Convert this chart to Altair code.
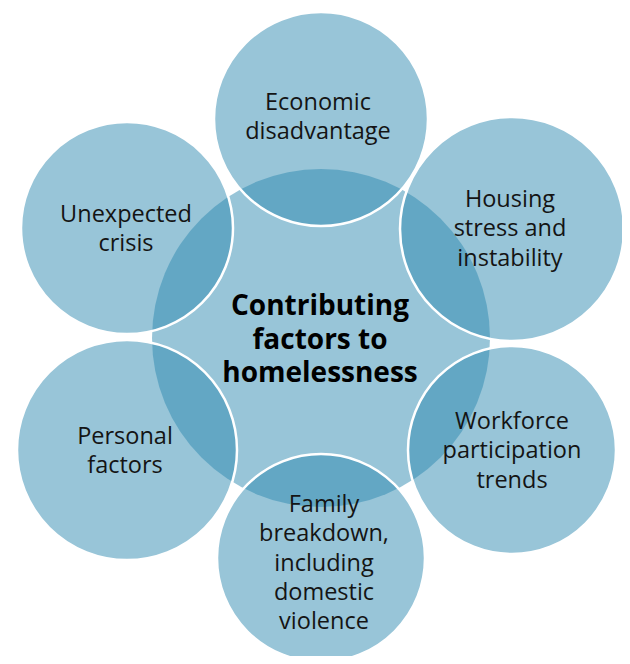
import altair as alt
import pandas as pd

# Outer factor circles (image pixel coordinates)
labels = [
    "Economic\ndisadvantage",
    "Housing\nstress and\ninstability",
    "Workforce\nparticipation\ntrends",
    "Family\nbreakdown,\nincluding\ndomestic\nviolence",
    "Personal\nfactors",
    "Unexpected\ncrisis",
]
cx = [321, 512, 512, 321, 127, 127]
cy = [119, 229, 450, 558, 450, 228]
radius = [107, 112, 104, 104, 110, 106]
# position of the first text line of each label
label_x = [318, 510, 512, 324, 125, 126]
label_y = [103, 200, 422, 505, 437, 215]

# Central circle
center_label = ["Contributing\nfactors to\nhomelessness"]
center_x = [321]
center_y = [338]
center_r = [169]
center_label_x = [320]
center_label_y = [307]

FILL = "#2d89af"
ALPHA = 0.49

outer = pd.DataFrame({
    "label": labels, "cx": cx, "cy": cy, "r": radius,
    "lx": label_x, "ly": label_y,
})
outer["size"] = (2 * outer["r"]) ** 2
center = pd.DataFrame({
    "label": center_label, "cx": center_x, "cy": center_y, "r": center_r,
    "lx": center_label_x, "ly": center_label_y,
})
center["size"] = (2 * center["r"]) ** 2

xs = alt.Scale(domain=[8, 622])
ys = alt.Scale(domain=[8, 656], reverse=True)

center_circle = alt.Chart(center).mark_circle(
    color=FILL, fillOpacity=ALPHA, strokeWidth=0
).encode(
    x=alt.X("cx:Q", scale=xs, axis=None),
    y=alt.Y("cy:Q", scale=ys, axis=None),
    size=alt.Size("size:Q", scale=None, legend=None),
)

outer_circles = alt.Chart(outer).mark_circle(
    fill=FILL, fillOpacity=ALPHA, stroke="white", strokeWidth=2.5, strokeOpacity=1
).encode(
    x=alt.X("cx:Q", scale=xs, axis=None),
    y=alt.Y("cy:Q", scale=ys, axis=None),
    size=alt.Size("size:Q", scale=None, legend=None),
)

outer_text = alt.Chart(outer).mark_text(
    font="Open Sans", fontSize=23.5, color="#141414", align="center",
    baseline="middle", lineBreak="\n", lineHeight=29.3
).encode(
    x=alt.X("lx:Q", scale=xs, axis=None),
    y=alt.Y("ly:Q", scale=ys, axis=None),
    text="label:N",
)

center_text = alt.Chart(center).mark_text(
    font="Open Sans", fontSize=28, fontWeight="bold", color="#000000",
    align="center", baseline="middle", lineBreak="\n", lineHeight=33.5
).encode(
    x=alt.X("lx:Q", scale=xs, axis=None),
    y=alt.Y("ly:Q", scale=ys, axis=None),
    text="label:N",
)

chart = alt.layer(center_circle, outer_circles, outer_text, center_text).properties(
    width=614, height=648, padding=0, autosize=alt.AutoSizeParams(type="none")
).configure_view(stroke=None)

chart.save("out.html", embed_options={"renderer": "svg", "actions": False})
